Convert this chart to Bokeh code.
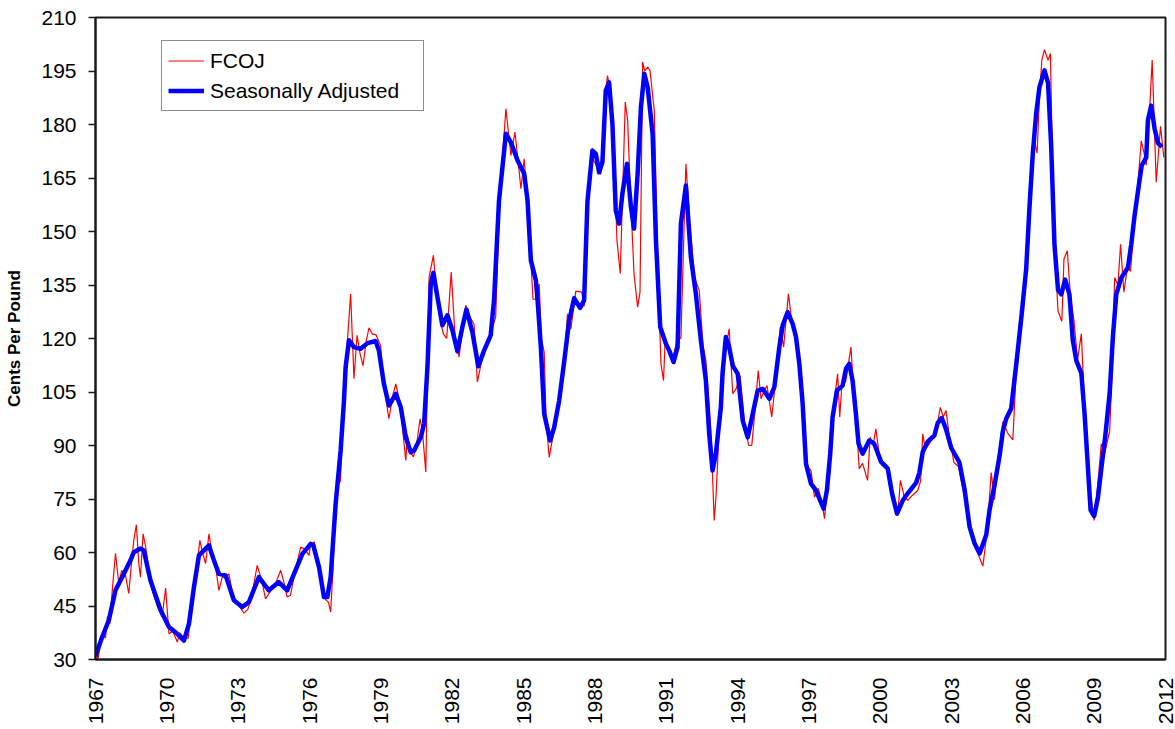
import math
from bokeh.plotting import figure
from bokeh.models import FixedTicker, Range1d, Legend, LegendItem, ColumnDataSource
from bokeh.embed import file_html
from bokeh.resources import INLINE

# ---- data ----
adj_year = [1967.00, 1967.28, 1967.56, 1967.84, 1968.19, 1968.47, 1968.61, 1968.89, 1969.03, 1969.31,
            1969.74, 1970.09, 1970.44, 1970.72, 1970.93, 1971.14, 1971.35, 1971.56, 1971.77, 1971.98,
            1972.19, 1972.47, 1972.82, 1973.17, 1973.45, 1973.87, 1974.29, 1974.71, 1975.06, 1975.35,
            1975.70, 1976.05, 1976.16, 1976.40, 1976.61, 1976.75, 1976.89, 1977.10, 1977.31, 1977.45,
            1977.52, 1977.66, 1977.87, 1978.15, 1978.44, 1978.78, 1978.92, 1979.13, 1979.34, 1979.63,
            1979.84, 1980.05, 1980.26, 1980.40, 1980.68, 1980.82, 1980.96, 1981.10, 1981.21, 1981.38,
            1981.59, 1981.80, 1982.01, 1982.22, 1982.43, 1982.60, 1982.85, 1983.10, 1983.34, 1983.62,
            1983.76, 1983.97, 1984.26, 1984.47, 1984.75, 1985.03, 1985.17, 1985.31, 1985.52, 1985.59,
            1985.73, 1985.87, 1986.12, 1986.29, 1986.50, 1986.71, 1986.92, 1987.13, 1987.38, 1987.55,
            1987.69, 1987.90, 1988.04, 1988.18, 1988.32, 1988.46, 1988.60, 1988.74, 1988.88, 1989.02,
            1989.16, 1989.35, 1989.52, 1989.65, 1989.80, 1989.94, 1990.08, 1990.22, 1990.43, 1990.57,
            1990.75, 1990.99, 1991.13, 1991.31, 1991.48, 1991.62, 1991.83, 1992.04, 1992.25, 1992.46,
            1992.67, 1992.81, 1992.95, 1993.09, 1993.30, 1993.37, 1993.51, 1993.65, 1993.80, 1994.01,
            1994.22, 1994.43, 1994.64, 1994.85, 1995.06, 1995.34, 1995.55, 1995.76, 1995.90, 1996.11,
            1996.32, 1996.46, 1996.60, 1996.74, 1996.88, 1997.09, 1997.30, 1997.62, 1997.76, 1997.90,
            1998.00, 1998.18, 1998.42, 1998.56, 1998.70, 1998.84, 1998.98, 1999.09, 1999.26, 1999.54,
            1999.75, 2000.04, 2000.32, 2000.50, 2000.71, 2000.95, 2001.16, 2001.51, 2001.65, 2001.79,
            2002.00, 2002.28, 2002.42, 2002.59, 2002.77, 2002.99, 2003.33, 2003.55, 2003.76, 2003.97,
            2004.18, 2004.46, 2004.60, 2004.81, 2005.02, 2005.16, 2005.30, 2005.51, 2005.72, 2005.93,
            2006.14, 2006.28, 2006.42, 2006.56, 2006.70, 2006.91, 2007.06, 2007.19, 2007.33, 2007.48,
            2007.62, 2007.78, 2007.96, 2008.10, 2008.25, 2008.46, 2008.60, 2008.74, 2008.85, 2009.00,
            2009.16, 2009.30, 2009.47, 2009.65, 2009.79, 2009.93, 2010.14, 2010.42, 2010.56, 2010.70,
            2010.87, 2011.00, 2011.19, 2011.26, 2011.40, 2011.54, 2011.68, 2011.85]
adj_value = [31.0, 36.3, 41.0, 49.4, 54.0, 57.8, 60.1, 61.1, 60.6, 52.2,
             43.8, 39.1, 37.2, 35.3, 40.0, 50.3, 59.2, 60.6, 62.0, 57.8,
             54.0, 53.6, 46.6, 44.7, 46.1, 53.1, 49.4, 51.7, 49.4, 54.0,
             59.6, 62.4, 62.0, 55.9, 47.5, 47.5, 53.1, 73.7, 88.6, 102.6,
             112.0, 119.5, 117.6, 117.1, 118.7, 119.3, 116.6, 107.3, 101.2, 104.5,
             100.7, 92.3, 88.1, 88.6, 92.3, 96.1, 112.0, 135.3, 138.4, 131.6,
             123.7, 126.5, 122.3, 116.4, 123.2, 128.1, 121.8, 112.2, 116.6, 120.9,
             130.7, 158.7, 177.4, 175.0, 169.9, 166.2, 158.7, 141.9, 136.3, 131.0,
             117.6, 98.9, 91.4, 95.1, 102.6, 113.5, 125.0, 131.3, 128.6, 130.7,
             158.5, 172.7, 171.8, 166.6, 169.5, 189.5, 191.8, 180.2, 155.9, 152.2,
             160.6, 169.0, 156.8, 150.8, 166.2, 184.9, 194.2, 190.5, 177.4, 147.5,
             123.2, 118.5, 116.6, 113.4, 117.6, 152.2, 162.9, 142.8, 132.5, 119.5,
             108.2, 93.3, 83.0, 87.7, 100.7, 110.1, 120.4, 117.6, 112.4, 110.1,
             97.0, 92.3, 98.9, 105.4, 105.9, 103.1, 106.4, 117.6, 123.7, 127.4,
             124.1, 120.4, 112.9, 101.7, 84.9, 79.3, 77.4, 72.3, 77.4, 87.7,
             98.0, 105.4, 106.8, 111.5, 112.9, 108.2, 98.9, 90.5, 87.7, 91.4,
             90.5, 85.4, 83.5, 76.5, 70.9, 74.6, 76.6, 79.5, 82.4, 88.2,
             91.1, 92.8, 96.3, 97.7, 94.6, 89.3, 85.3, 77.7, 67.2, 62.6,
             59.7, 64.9, 71.9, 78.9, 87.0, 94.0, 97.5, 100.4, 112.6, 125.4,
             139.4, 156.9, 171.9, 183.0, 190.5, 195.2, 191.7, 174.3, 146.4, 133.6,
             132.4, 136.5, 132.4, 119.6, 113.8, 110.3, 98.6, 83.5, 71.9, 70.2,
             75.4, 83.5, 92.8, 104.5, 120.7, 132.4, 137.0, 139.9, 146.4, 154.5,
             162.6, 168.5, 170.8, 181.2, 185.3, 178.9, 174.8, 173.7]

fcoj_year = [1967.00, 1967.10, 1967.20, 1967.30, 1967.42, 1967.50, 1967.60, 1967.70, 1967.84, 1967.98,
             1968.10, 1968.25, 1968.40, 1968.50, 1968.61, 1968.72, 1968.82, 1968.89, 1969.00, 1969.10,
             1969.25, 1969.40, 1969.60, 1969.80, 1969.95, 1970.09, 1970.25, 1970.44, 1970.55, 1970.72,
             1970.90, 1971.05, 1971.20, 1971.39, 1971.50, 1971.63, 1971.77, 1971.90, 1972.05, 1972.19,
             1972.33, 1972.47, 1972.61, 1972.75, 1972.90, 1973.05, 1973.24, 1973.40, 1973.55, 1973.80,
             1974.00, 1974.15, 1974.35, 1974.55, 1974.79, 1974.95, 1975.06, 1975.20, 1975.40, 1975.63,
             1975.80, 1975.98, 1976.05, 1976.20, 1976.35, 1976.50, 1976.65, 1976.80, 1976.89, 1977.00,
             1977.07, 1977.20, 1977.30, 1977.42, 1977.55, 1977.73, 1977.87, 1978.00, 1978.12, 1978.25,
             1978.38, 1978.50, 1978.64, 1978.80, 1978.99, 1979.10, 1979.34, 1979.50, 1979.63, 1979.80,
             1980.05, 1980.12, 1980.25, 1980.37, 1980.50, 1980.65, 1980.75, 1980.89, 1981.03, 1981.21,
             1981.38, 1981.50, 1981.63, 1981.77, 1981.96, 1982.12, 1982.29, 1982.42, 1982.57, 1982.75,
             1982.92, 1983.06, 1983.25, 1983.45, 1983.65, 1983.83, 1984.00, 1984.26, 1984.47, 1984.64,
             1984.80, 1984.89, 1985.03, 1985.20, 1985.40, 1985.50, 1985.66, 1985.75, 1985.87, 1985.95,
             1986.08, 1986.25, 1986.50, 1986.70, 1986.85, 1986.99, 1987.20, 1987.45, 1987.55, 1987.70,
             1987.83, 1987.95, 1988.10, 1988.25, 1988.40, 1988.53, 1988.65, 1988.80, 1988.93, 1989.07,
             1989.28, 1989.38, 1989.50, 1989.65, 1989.80, 1989.90, 1990.01, 1990.10, 1990.22, 1990.32,
             1990.50, 1990.65, 1990.78, 1990.89, 1990.95, 1991.10, 1991.25, 1991.48, 1991.62, 1991.83,
             1992.00, 1992.20, 1992.39, 1992.55, 1992.67, 1992.88, 1993.02, 1993.10, 1993.25, 1993.40,
             1993.55, 1993.65, 1993.80, 1993.95, 1994.11, 1994.30, 1994.47, 1994.60, 1994.75, 1994.87,
             1994.99, 1995.10, 1995.24, 1995.44, 1995.60, 1995.80, 1995.94, 1996.14, 1996.30, 1996.50,
             1996.67, 1996.80, 1996.95, 1997.09, 1997.24, 1997.40, 1997.55, 1997.66, 1997.80, 1997.95,
             1998.10, 1998.21, 1998.30, 1998.38, 1998.55, 1998.77, 1998.90, 1999.00, 1999.12, 1999.26,
             1999.47, 1999.58, 1999.70, 1999.82, 1999.95, 2000.08, 2000.20, 2000.32, 2000.50, 2000.74,
             2000.85, 2001.00, 2001.16, 2001.35, 2001.58, 2001.70, 2001.79, 2001.90, 2002.07, 2002.20,
             2002.35, 2002.53, 2002.65, 2002.77, 2002.90, 2003.10, 2003.30, 2003.50, 2003.65, 2003.80,
             2004.00, 2004.15, 2004.32, 2004.50, 2004.67, 2004.81, 2004.95, 2005.16, 2005.37, 2005.58,
             2005.70, 2005.86, 2006.00, 2006.15, 2006.30, 2006.49, 2006.60, 2006.70, 2006.80, 2006.91,
             2007.06, 2007.16, 2007.30, 2007.48, 2007.64, 2007.73, 2007.87, 2008.00, 2008.15, 2008.30,
             2008.46, 2008.60, 2008.74, 2009.00, 2009.15, 2009.30, 2009.45, 2009.65, 2009.75, 2009.86,
             2010.00, 2010.11, 2010.25, 2010.40, 2010.53, 2010.65, 2010.80, 2010.98, 2011.10, 2011.19,
             2011.30, 2011.44, 2011.61, 2011.79, 2011.93]
fcoj_value = [33.0, 30.0, 34.0, 37.0, 36.0, 42.0, 40.0, 49.0, 59.8, 51.3,
              55.0, 54.0, 48.5, 56.0, 63.4, 67.8, 57.0, 53.1, 65.2, 62.0,
              55.0, 49.0, 45.0, 42.0, 50.0, 37.2, 38.0, 34.9, 37.5, 36.0,
              36.0, 46.0, 53.0, 63.4, 60.0, 56.9, 65.2, 60.0, 56.0, 49.4,
              53.1, 53.0, 54.0, 49.0, 46.0, 45.0, 43.0, 44.0, 47.0, 56.4,
              52.0, 47.0, 49.0, 51.0, 55.0, 51.0, 47.5, 48.0, 55.0, 61.5,
              61.0, 59.2, 62.4, 63.0, 57.0, 53.0, 47.0, 46.0, 43.3, 57.0,
              73.0, 79.0, 80.0, 100.0, 115.0, 132.5, 108.7, 120.9, 116.0, 112.4,
              119.0, 123.0, 121.3, 121.0, 118.0, 108.0, 97.5, 104.0, 107.3, 102.0,
              85.8, 93.0, 88.0, 86.8, 90.0, 97.5, 94.0, 82.6, 137.2, 143.3,
              130.0, 125.0, 121.3, 120.0, 138.6, 120.9, 114.8, 122.0, 129.3, 126.0,
              124.0, 107.8, 114.0, 119.0, 122.0, 126.0, 160.0, 184.4, 171.3, 177.9,
              168.0, 162.0, 170.4, 155.0, 131.0, 131.0, 135.3, 120.0, 116.2, 97.0,
              86.7, 93.0, 101.0, 112.0, 126.9, 122.6, 133.3, 133.0, 129.0, 155.0,
              171.8, 170.0, 168.0, 166.0, 185.0, 193.7, 190.0, 175.0, 147.5, 138.2,
              186.3, 181.1, 160.0, 138.0, 128.8, 133.0, 197.5, 195.0, 196.1, 195.1,
              183.9, 140.0, 112.9, 108.2, 118.5, 117.0, 114.0, 119.9, 120.0, 169.0,
              152.0, 137.0, 133.5, 118.0, 113.8, 94.2, 69.0, 76.0, 98.0, 112.0,
              119.0, 122.7, 104.5, 106.0, 109.6, 96.0, 90.0, 90.0, 101.0, 111.0,
              103.1, 105.0, 106.8, 98.0, 108.0, 123.2, 117.6, 132.5, 124.0, 118.0,
              112.0, 95.0, 84.0, 83.0, 75.5, 78.0, 74.0, 69.5, 80.0, 95.0,
              104.0, 110.1, 98.0, 106.0, 108.0, 117.6, 104.0, 96.0, 83.5, 85.0,
              80.2, 92.3, 90.0, 94.7, 88.0, 84.4, 85.0, 84.0, 78.0, 70.4,
              80.2, 76.0, 74.6, 76.0, 77.4, 80.0, 93.3, 89.0, 90.5, 92.0,
              94.0, 100.7, 98.0, 99.8, 93.0, 85.3, 84.0, 77.0, 72.0, 68.0,
              62.0, 59.0, 56.2, 66.0, 82.4, 74.8, 86.0, 96.7, 93.4, 91.6,
              108.0, 124.8, 130.0, 140.0, 155.0, 175.4, 172.0, 188.0, 198.1, 201.0,
              198.0, 199.9, 150.0, 127.7, 124.8, 142.3, 144.6, 132.0, 125.0, 114.0,
              121.3, 100.0, 82.0, 69.0, 79.0, 90.5, 88.0, 94.0, 110.0, 137.0,
              135.0, 146.4, 133.0, 140.0, 138.8, 150.0, 160.0, 175.4, 172.0, 168.6,
              180.0, 198.1, 163.8, 179.5, 170.8]

x_ticks = list(range(1967, 2013, 3))
y_ticks = list(range(30, 211, 15))

FONT = "Liberation Sans"

p = figure(width=1175, height=729, output_backend="svg", toolbar_location=None,
           x_range=Range1d(1967, 2012), y_range=Range1d(30, 210))
p.min_border_left = 95
p.min_border_right = 10
p.min_border_top = 17
p.min_border_bottom = 70
p.background_fill_color = "white"
p.border_fill_color = "white"
p.outline_line_color = "#1a1a1a"
p.outline_line_width = 2
p.xgrid.visible = False
p.ygrid.visible = False

src_f = ColumnDataSource(dict(x=fcoj_year, y=fcoj_value))
src_a = ColumnDataSource(dict(x=adj_year, y=adj_value))
r_f = p.line("x", "y", source=src_f, line_color="#ff0000", line_width=1.2)
r_a = p.line("x", "y", source=src_a, line_color="#0000ff", line_width=4.5, line_join="round")

# axes
p.xaxis.ticker = FixedTicker(ticks=x_ticks)
p.yaxis.ticker = FixedTicker(ticks=y_ticks)
for ax in (p.xaxis[0], p.yaxis[0]):
    ax.axis_line_color = "#1a1a1a"
    ax.axis_line_width = 2
    ax.major_tick_line_color = "#1a1a1a"
    ax.major_tick_line_width = 1.5
    ax.minor_tick_line_color = None
    ax.major_label_text_font = FONT
    ax.major_label_text_font_size = "21px"
    ax.major_label_text_color = "black"
p.xaxis.major_tick_out = 0
p.xaxis.major_tick_in = 0
p.xaxis.major_label_orientation = math.pi / 2
p.xaxis.major_label_standoff = 18
p.yaxis.major_tick_out = 7
p.yaxis.major_tick_in = 0
p.yaxis.major_label_standoff = 12
p.yaxis.axis_label = "Cents Per Pound"
p.yaxis.axis_label_text_font = FONT
p.yaxis.axis_label_text_font_style = "bold"
p.yaxis.axis_label_text_font_size = "17px"
p.yaxis.axis_label_text_color = "black"
p.yaxis.axis_label_standoff = 14

legend = Legend(items=[LegendItem(label="FCOJ", renderers=[r_f]),
                       LegendItem(label="Seasonally Adjusted", renderers=[r_a])],
                location=(66, 548))
legend.margin = 0
legend.padding = 6
legend.spacing = 3
legend.label_height = 27
legend.glyph_height = 27
legend.glyph_width = 36
legend.label_standoff = 6
legend.label_width = 207
legend.label_text_font = FONT
legend.label_text_font_size = "21px"
legend.label_text_color = "black"
legend.border_line_color = "#1a1a1a"
legend.border_line_width = 1.5
legend.background_fill_color = "white"
legend.background_fill_alpha = 1.0
p.add_layout(legend, "center")

open("out.html", "w").write(file_html(p, INLINE))
